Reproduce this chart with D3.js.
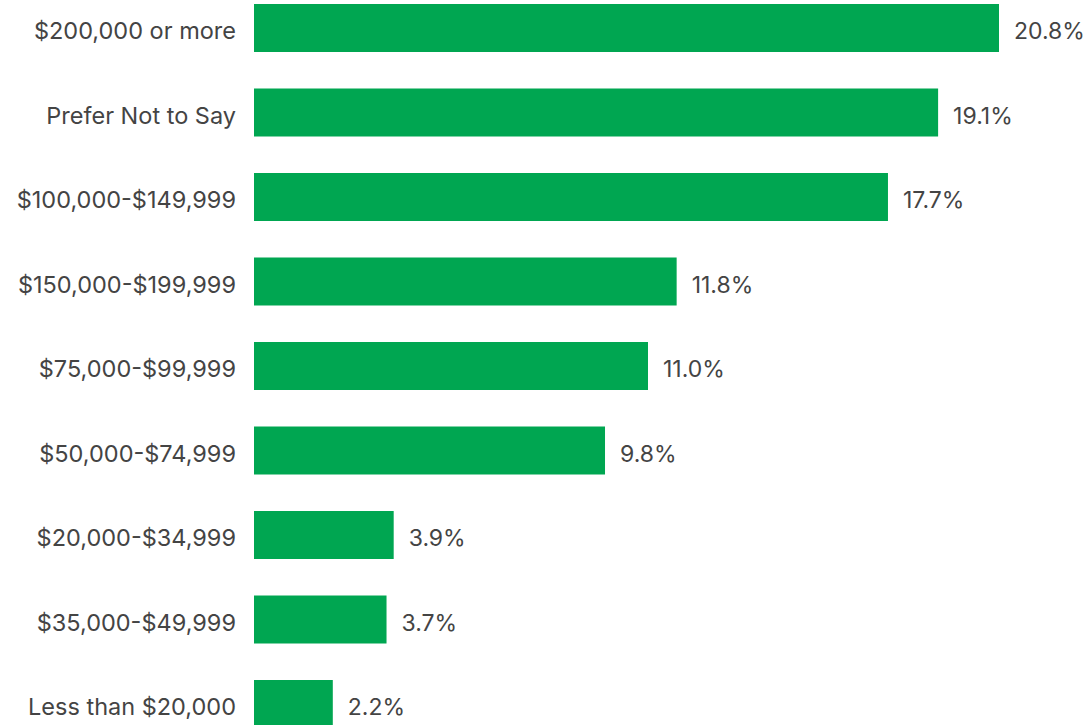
<!DOCTYPE html>
<html>
<head>
<meta charset="utf-8">
<script src="https://cdn.jsdelivr.net/npm/d3@7"></script>
<style>
  body { margin: 0; background: #fff; }
  svg text { font-family: Inter, "Open Sans", sans-serif; fill: #444; }
</style>
</head>
<body>
<div id="chart"></div>
<script>
// income brackets and share of respondents (%)
let categories = ["$200,000 or more", "Prefer Not to Say", "$100,000-$149,999", "$150,000-$199,999",
    "$75,000-$99,999", "$50,000-$74,999", "$20,000-$34,999", "$35,000-$49,999", "Less than $20,000"];
let values = [20.8, 19.1, 17.7, 11.8, 11.0, 9.8, 3.9, 3.7, 2.2];

let width = 1087, height = 725;

let svg = d3.select("#chart")
    .append("svg")
    .attr("width", width)
    .attr("height", height);

// x scale: bar length
let x = d3.scaleLinear()
    .domain([0, d3.max(values)])
    .range([254, 999]);

// y scale: one band per category
let y = d3.scaleBand()
    .domain(categories)
    .range([4, 728])
    .paddingInner(0.432)
    .paddingOuter(0);

let data = categories.map(function (c, i) { return { name: c, value: values[i] }; });

svg.selectAll("rect")
    .data(data)
    .enter()
    .append("rect")
    .attr("x", x(0))
    .attr("y", function (d) { return y(d.name); })
    .attr("width", function (d) { return x(d.value) - x(0); })
    .attr("height", y.bandwidth())
    .attr("fill", "#00a651");

// category labels on the left
svg.selectAll(".cat")
    .data(data)
    .enter()
    .append("text")
    .attr("class", "cat")
    .attr("x", 236)
    .attr("y", function (d) { return y(d.name) + y.bandwidth() / 2; })
    .attr("dy", "0.48em")
    .attr("text-anchor", "end")
    .style("font-size", "23.5px")
    .text(function (d) { return d.name; });

// value labels after each bar
svg.selectAll(".val")
    .data(data)
    .enter()
    .append("text")
    .attr("class", "val")
    .attr("x", function (d) { return x(d.value) + 15; })
    .attr("y", function (d) { return y(d.name) + y.bandwidth() / 2; })
    .attr("dy", "0.48em")
    .style("font-size", "23px")
    .text(function (d) { return d.value.toFixed(1) + "%"; });
</script>
</body>
</html>
